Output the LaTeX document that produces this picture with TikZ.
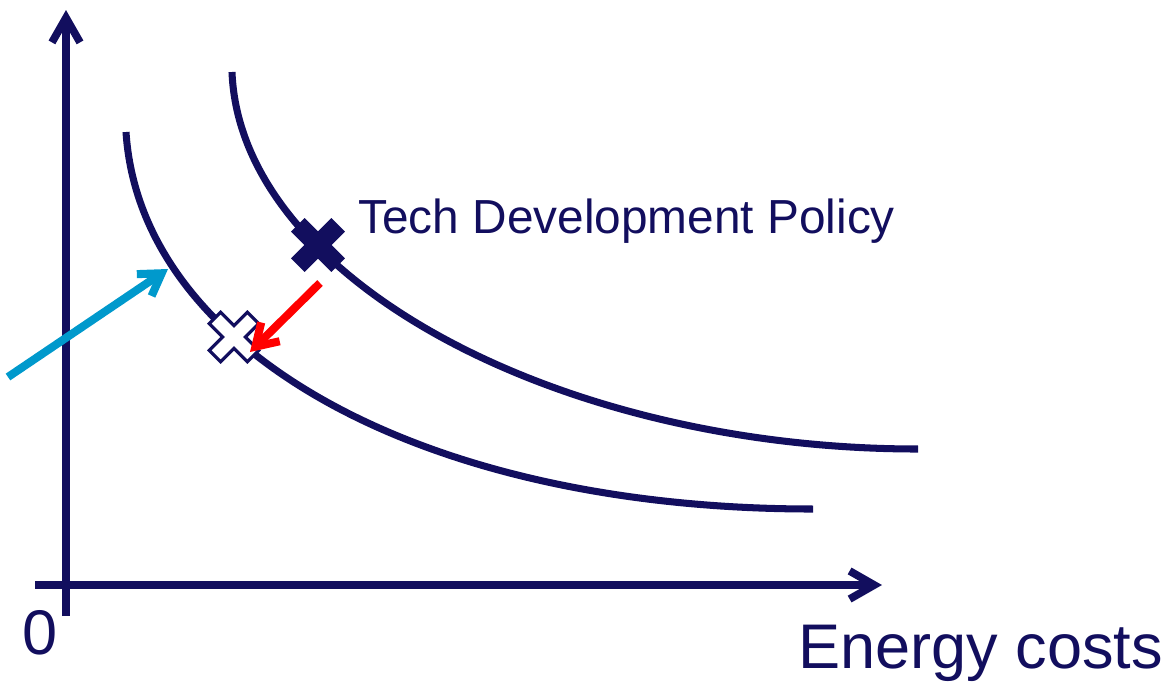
\documentclass[tikz,border=0pt]{standalone}
\usepackage{fontspec}
\setmainfont{Liberation Sans}
\usetikzlibrary{arrows.meta}

\definecolor{navy}{RGB}{18,14,94}
\definecolor{skyblue}{RGB}{0,153,204}

% cross marker: #1 centre, #2 fill
\newcommand{\crossmark}[2]{%
  \draw[navy, line width=1.8pt, fill=#2, shift={#1}, rotate=45]
    (-8,-8) -- (-8,-27) -- (8,-27) -- (8,-8) -- (27,-8) -- (27,8) -- (8,8)
    -- (8,27) -- (-8,27) -- (-8,8) -- (-27,8) -- (-27,-8) -- cycle;}

\begin{document}
\begin{tikzpicture}[x=0.02cm, y=-0.02cm]
  \tikzstyle{axis}=[navy, line width=4.4pt, -{Straight Barb[length=14pt, width=16pt]}]
  \tikzstyle{curve}=[navy, line width=4pt]
  \tikzstyle{shift arrow}=[line width=4.6pt, -{Straight Barb[length=12pt, width=15pt]}]
  \tikzstyle{label}=[text=navy, inner sep=0pt, anchor=base west]

  \useasboundingbox (0,0) rectangle (1168,684);

  \coordinate (ybot) at (66,616);
  \coordinate (ytop) at (66,10);
  \coordinate (xleft) at (35,585);
  \coordinate (xright) at (882,585);

  \draw[axis] (ybot) -- (ytop);
  \draw[axis] (xleft) -- (xright);

  \coordinate (outertop) at (232,72);
  \coordinate (outerend) at (918,449);
  \coordinate (innertop) at (126,132);
  \coordinate (innerend) at (813,509);
  \draw[curve] (outertop) .. controls (240,280) and (560,449) .. (outerend);
  \draw[curve] (innertop) .. controls (140,350) and (420,509) .. (innerend);

  \coordinate (bluestart) at (8,377);
  \coordinate (bluetip) at (168,269);
  \draw[shift arrow, skyblue] (bluestart) -- (bluetip);

  \crossmark{(318,245)}{navy}
  \crossmark{(234,337)}{white}

  \coordinate (redstart) at (320,283);
  \coordinate (redtip) at (250,352);
  \draw[shift arrow, red] (redstart) -- (redtip);

  \node (policy) at (358,233) [label, font=\fontsize{27.2}{32}\selectfont] {Tech Development Policy};
  \node (xlabel) at (798,668) [label, font=\fontsize{35.9}{40}\selectfont] {Energy costs};
  \node (origin) at (22,654) [label, font=\fontsize{35.9}{40}\selectfont] {0};
\end{tikzpicture}
\end{document}
